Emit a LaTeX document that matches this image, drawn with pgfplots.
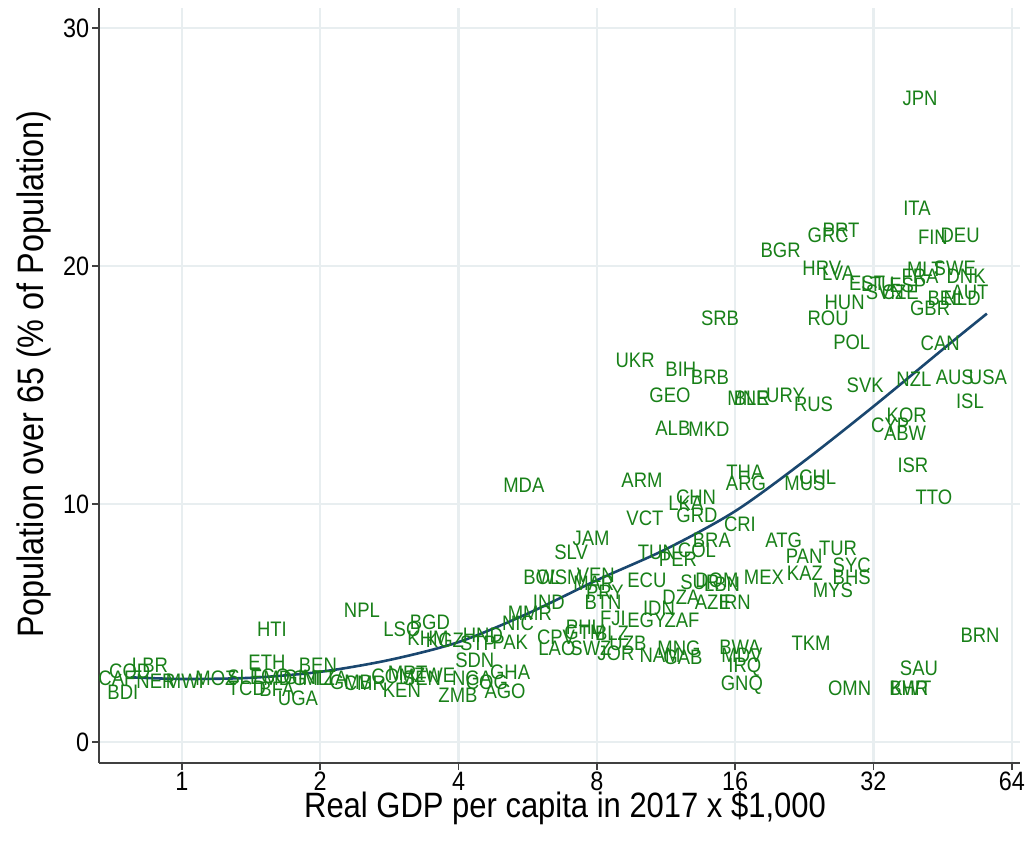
\documentclass[border=0pt]{standalone}
\usepackage{pgfplots}
\pgfplotsset{compat=1.18}
\usepackage{pgfplotstable}
\usepackage{fontspec}
\setmainfont{Liberation Sans}[FakeStretch=0.88]
\definecolor{labgreen}{RGB}{24,128,24}
\definecolor{fitnavy}{RGB}{26,71,111}
\definecolor{gridc}{RGB}{232,238,240}

\pgfplotstableread{
x y lab
0.722 2.69 CAF
0.770 2.98 COD
0.852 3.24 LBR
0.744 2.10 BDI
0.878 2.56 NER
1.015 2.56 MWI
1.186 2.69 MOZ
1.371 2.73 SLE
1.531 3.36 ETH
1.385 2.27 TCD
1.610 2.23 BFA
1.789 1.85 UGA
1.977 3.24 BEN
1.554 2.77 TGO
1.676 2.69 MDG
1.806 2.73 GIN
1.977 2.69 MLI
2.099 2.69 TZA
2.333 2.52 GMB
1.570 4.75 HTI
2.465 5.55 NPL
3.466 5.04 BGD
3.012 4.75 LSO
3.432 4.37 KHM
3.737 4.29 KGZ
4.52 4.50 HND
4.41 4.16 STP
5.18 4.20 PAK
5.39 5.00 NIC
5.72 5.42 MMR
6.29 5.88 IND
4.34 3.45 SDN
4.28 2.69 NGA
4.61 2.52 COG
5.18 2.94 GHA
5.05 2.14 AGO
3.99 1.97 ZMB
3.012 2.18 KEN
2.502 2.48 CMR
2.88 2.77 COM
3.10 2.90 MRT
3.33 2.69 SEN
3.55 2.82 ZWE
6.07 6.93 BOL
6.65 6.93 WSM
7.77 8.57 JAM
7.03 7.98 SLV
7.96 7.02 VEN
7.88 6.68 MAR
8.33 6.30 PRY
8.25 5.88 BTN
10.28 6.81 ECU
10.81 7.98 TUN
13.21 8.07 COL
12.01 7.69 PER
14.24 8.49 BRA
13.41 6.72 SUR
14.60 6.81 DOM
14.98 6.64 LBN
14.31 5.88 AZE
15.98 5.88 IRN
18.48 6.93 MEX
12.19 6.09 DZA
10.92 5.63 IDN
8.67 5.21 FJI
10.28 5.13 EGY
12.26 5.13 ZAF
7.50 4.83 PHL
7.54 4.62 GTM
8.63 4.58 BLZ
6.52 4.41 CPV
9.35 4.16 UZB
6.55 3.95 LAO
7.77 3.95 SWZ
8.80 3.74 JOR
10.98 3.66 NAM
12.07 3.95 MNG
12.32 3.57 GAB
16.39 3.99 BWA
16.55 3.66 MDV
16.80 3.15 IRQ
16.55 2.39 GNQ
39.8 22.44 ITA
25.5 21.30 GRC
27.2 21.51 PRT
43.1 21.22 FIN
49.4 21.30 DEU
20.1 20.67 BGR
24.7 19.92 HRV
26.8 19.71 LVA
31.0 19.29 EST
32.7 19.24 LTU
33.9 18.91 SVN
36.6 18.91 CZE
38.0 19.20 ESP
41.4 19.87 MLT
48.1 19.92 SWE
40.4 19.58 FRA
50.9 19.58 DNK
51.9 18.91 AUT
45.8 18.66 BEL
49.9 18.66 NLD
42.5 18.24 GBR
27.7 18.49 HUN
25.5 17.82 ROU
14.83 17.82 SRB
28.7 16.81 POL
44.7 16.76 CAN
9.69 16.05 UKR
12.19 15.67 BIH
14.10 15.34 BRB
11.54 14.58 GEO
17.06 14.45 MNE
17.40 14.45 BLR
20.6 14.58 URY
23.7 14.20 RUS
30.7 15.00 SVK
39.2 15.25 NZL
48.1 15.34 AUS
56.8 15.34 USA
51.9 14.33 ISL
37.8 13.74 KOR
34.8 13.32 CYP
37.5 12.98 ABW
11.71 13.19 ALB
14.03 13.15 MKD
39.0 11.64 ISR
43.3 10.29 TTO
10.03 11.01 ARM
16.80 11.34 THA
16.89 10.88 ARG
24.2 11.13 CHL
22.7 10.88 MUS
13.15 10.29 CHN
12.50 10.04 LKA
13.21 9.54 GRD
10.18 9.41 VCT
16.39 9.16 CRI
5.55 10.80 MDA
40.4 27.06 JPN
20.4 8.49 ATG
26.8 8.15 TUR
22.6 7.82 PAN
28.7 7.44 SYC
28.7 6.93 BHS
22.7 7.10 KAZ
26.1 6.39 MYS
23.4 4.16 TKM
54.6 4.50 BRN
40.2 3.11 SAU
28.4 2.27 OMN
38.6 2.27 KWT
38.2 2.27 BHR
}\countries

\begin{document}
\begin{tikzpicture}
\path[use as bounding box] (-49.5pt,-40.5pt) rectangle (463.5pt,381.5pt);
\begin{axis}[
  at={(0,0)}, anchor=south west,
  scale only axis, width=460.5pt, height=377.5pt,
  xmode=log, log basis x=2,
  xmin=0.66, xmax=66.7, ymin=-0.88, ymax=30.84,
  xtick={1,2,4,8,16,32,64}, xticklabels={1,2,4,8,16,32,64},
  xminorticks=false,
  ytick={0,10,20,30},
  axis lines*=left,
  axis line style={-, black!75, line width=0.9pt},
  tick style={black!75, line width=0.9pt},
  major tick length=3.5pt,
  tick align=outside,
  grid=major, major grid style={gridc, line width=1.1pt},
  ticklabel style={font=\fontsize{13.3}{15}\selectfont},
  xticklabel style={inner sep=1pt},
  yticklabel style={inner sep=1.2pt},
  /pgf/number format/assume math mode=true,
  xlabel={Real GDP per capita in 2017 x \$1,000},
  ylabel={Population over 65 (\% of Population)},
  label style={font=\fontsize{17.6}{20}\selectfont},
  x label style={at={(axis description cs:0.506,-0.0596)}, anchor=center},
  y label style={at={(axis description cs:-0.0706,0.515)}, anchor=center, font=\fontsize{18.4}{20}\selectfont},
  clip=false,
]
\addplot[only marks, mark=none, nodes near coords, point meta=explicit symbolic,
  every node near coord/.append style={anchor=center, text=labgreen, font=\fontsize{10.5}{11}\selectfont, inner sep=0pt}]
  table[x=x, y=y, meta=lab] {\countries};
\addplot[fitnavy, line width=1.3pt, smooth] coordinates {
(0.774,2.72) (1,2.65) (1.414,2.70) (2,2.95) (2.83,3.45) (4,4.2) (5.66,5.4) (8,6.8)
(11.3,8.1) (16,9.7) (22.6,11.8) (32,14.1) (45.3,16.5) (56.5,18.0)};
\end{axis}
\end{tikzpicture}
\end{document}
